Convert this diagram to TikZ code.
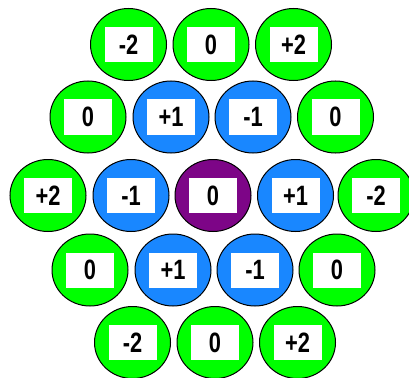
\documentclass[tikz,border=0pt]{standalone}
\usepackage{fontspec}
\setmainfont{Liberation Sans}
\newfontfamily\tagfont[FakeStretch=0.78]{Liberation Sans}
\usetikzlibrary{shapes.geometric}
\definecolor{ringgreen}{RGB}{0,255,0}
\definecolor{ringblue}{RGB}{25,135,255}
\definecolor{ringpurple}{RGB}{125,5,135}

\begin{document}
\begin{tikzpicture}[x=1pt,y=-1pt,
  disc/.style={ellipse,draw=black,line width=1pt,minimum width=76pt,minimum height=72pt,inner sep=0pt},
  tag/.style={rectangle,fill=white,minimum width=48pt,minimum height=35pt,inner sep=0pt,
    font=\tagfont\bfseries\fontsize{28}{28}\selectfont}]

\useasboundingbox (0,0) rectangle (409,377);

% row 1
\node[disc,fill=ringgreen] (d11) at (128.5,44.5) {};
\node[disc,fill=ringgreen] (d12) at (211,44.5) {};
\node[disc,fill=ringgreen] (d13) at (293.5,44.5) {};
\node[tag] (t11) at (d11) {-2};
\node[tag] (t12) at (d12) {0};
\node[tag] (t13) at (d13) {+2};

% row 2
\node[disc,fill=ringgreen] (d21) at (88,117) {};
\node[disc,fill=ringblue] (d22) at (171,117) {};
\node[disc,fill=ringblue] (d23) at (253,117) {};
\node[disc,fill=ringgreen] (d24) at (335.5,117) {};
\node[tag] (t21) at (d21) {0};
\node[tag] (t22) at (d22) {+1};
\node[tag] (t23) at (d23) {-1};
\node[tag] (t24) at (d24) {0};

% row 3
\node[disc,fill=ringgreen] (d31) at (48,195.5) {};
\node[disc,fill=ringblue] (d32) at (131,195.5) {};
\node[disc,fill=ringpurple] (d33) at (213,195.5) {};
\node[disc,fill=ringblue] (d34) at (295.5,195.5) {};
\node[disc,fill=ringgreen] (d35) at (376,195.5) {};
\node[tag] (t31) at (d31) {+2};
\node[tag] (t32) at (d32) {-1};
\node[tag] (t33) at (d33) {0};
\node[tag] (t34) at (d34) {+1};
\node[tag] (t35) at (d35) {-2};

% row 4
\node[disc,fill=ringgreen] (d41) at (90,270) {};
\node[disc,fill=ringblue] (d42) at (173,270) {};
\node[disc,fill=ringblue] (d43) at (255,270) {};
\node[disc,fill=ringgreen] (d44) at (337,270) {};
\node[tag] (t41) at (d41) {0};
\node[tag] (t42) at (d42) {+1};
\node[tag] (t43) at (d43) {-1};
\node[tag] (t44) at (d44) {0};

% row 5
\node[disc,fill=ringgreen] (d51) at (132.5,342.5) {};
\node[disc,fill=ringgreen] (d52) at (215,342.5) {};
\node[disc,fill=ringgreen] (d53) at (297.5,342.5) {};
\node[tag] (t51) at (d51) {-2};
\node[tag] (t52) at (d52) {0};
\node[tag] (t53) at (d53) {+2};
\end{tikzpicture}
\end{document}
